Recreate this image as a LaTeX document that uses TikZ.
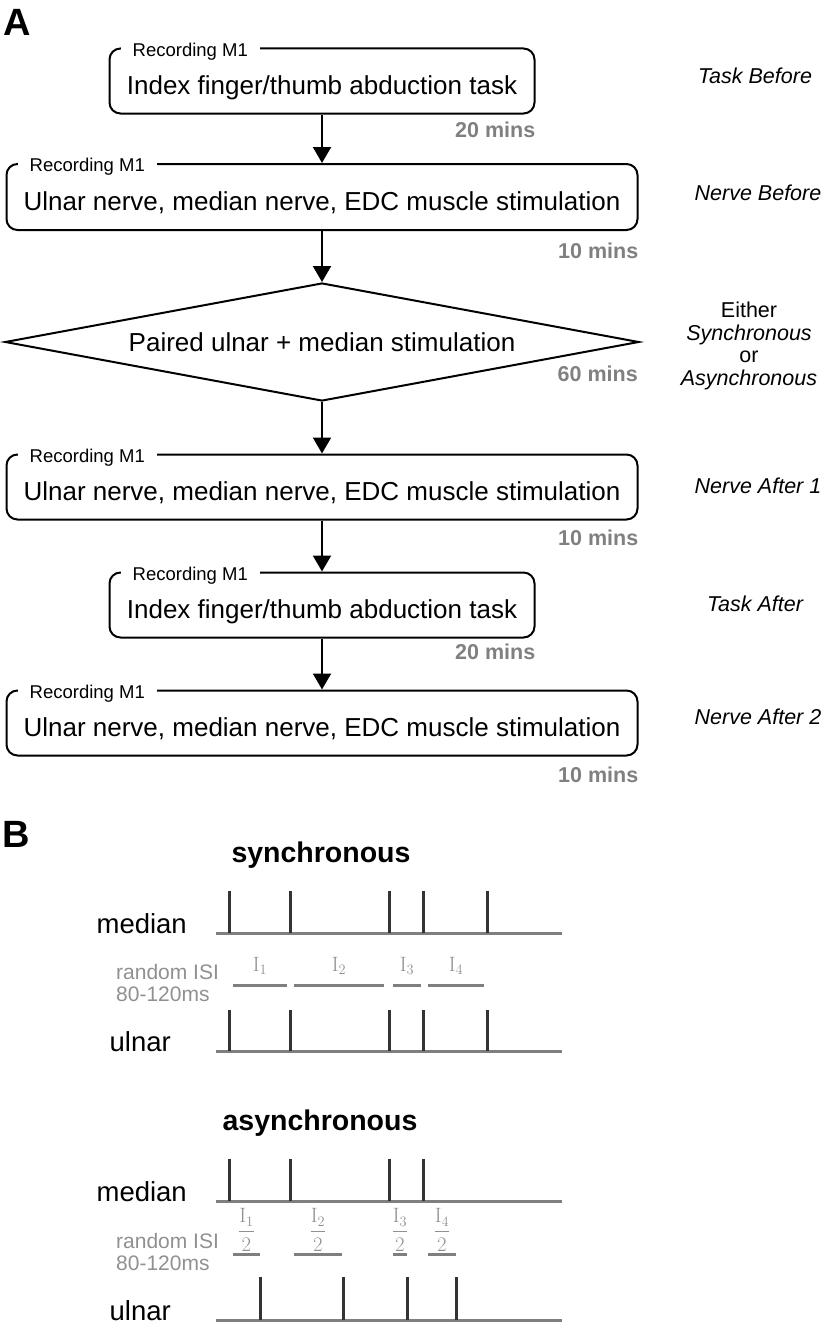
\documentclass[tikz,border=0pt]{standalone}
\usepackage[no-math]{fontspec}
\setmainfont{Liberation Sans}
\usepackage{amsmath}
\usetikzlibrary{arrows.meta}
\usetikzlibrary{shapes.geometric}
\definecolor{minsgray}{HTML}{808080}
\definecolor{tracegray}{HTML}{7F7F7F}
\definecolor{spikegray}{HTML}{333333}
\definecolor{isigray}{HTML}{909090}

\begin{document}
\begin{tikzpicture}[x=1pt, y=-1pt]
	\tikzstyle{stagebox}=[draw, line width=2pt, rounded corners=11pt, inner sep=0pt, text height=26pt, text depth=0pt, font=\fontsize{26}{30}\selectfont]
	\tikzstyle{choice}=[draw, diamond, line width=2pt, inner sep=0pt, aspect=5.4, font=\fontsize{26}{30}\selectfont]
	\tikzstyle{reclabel}=[fill=white, inner xsep=12pt, inner ysep=1pt, anchor=west, font=\fontsize{18.5}{20}\selectfont]
	\tikzstyle{minslabel}=[anchor=east, inner sep=0pt, text=minsgray, font=\fontsize{21.5}{22}\selectfont\bfseries]
	\tikzstyle{phaselabel}=[inner sep=0pt, font=\fontsize{21.5}{22}\selectfont\itshape]
	\tikzstyle{flowarrow}=[line width=2pt, -{Triangle[width=18pt,length=16pt]}]
	\tikzstyle{panel}=[anchor=north west, inner sep=0pt, font=\fontsize{38}{40}\selectfont\bfseries]
	\tikzstyle{modetitle}=[font=\fontsize{28.5}{30}\selectfont\bfseries]
	\tikzstyle{tracelabel}=[anchor=base east, inner sep=0pt, font=\fontsize{27.5}{32}\selectfont]
	\tikzstyle{isilabel}=[anchor=west, align=left, inner sep=0pt, text=isigray, font=\fontsize{21}{22}\selectfont]
	\tikzstyle{isinum}=[inner sep=0pt, text=isigray, font=\fontsize{20}{22}\selectfont]
	\tikzstyle{trace}=[line width=3pt, tracegray]
	\tikzstyle{spike}=[line width=3pt, spikegray]
	\tikzstyle{isibar}=[line width=3pt, tracegray]
	\useasboundingbox (0,0) rectangle (822,1330);
	%%% PANEL A %%%
	\node[panel] (pa) at (3,9) {A};
	%stage boxes
	\node[stagebox, minimum width=425pt, minimum height=65pt] (b1) at (322,81) {Index finger/thumb abduction task};
	\node[stagebox, minimum width=631pt, minimum height=66pt] (b2) at (322,197) {Ulnar nerve, median nerve, EDC muscle stimulation};
	\node[choice, minimum width=634pt, minimum height=118pt] (d) at (322,342) {Paired ulnar + median stimulation};
	\node[stagebox, minimum width=631pt, minimum height=65pt] (b3) at (322,487) {Ulnar nerve, median nerve, EDC muscle stimulation};
	\node[stagebox, minimum width=425pt, minimum height=65pt] (b4) at (322,605) {Index finger/thumb abduction task};
	\node[stagebox, minimum width=631pt, minimum height=65pt] (b5) at (322,723) {Ulnar nerve, median nerve, EDC muscle stimulation};
	%recording labels on the box tops
	\foreach \b in {b1,b2,b3,b4,b5}
		\node[reclabel] at ([xshift=12pt,yshift=-4pt]\b.north west) {Recording M1};
	%durations
	\node[minslabel] (m1) at ([yshift=-15pt]b1.south east) {20 mins};
	\node[minslabel] (m2) at ([yshift=-20pt]b2.south east) {10 mins};
	\node[minslabel] (m3) at ([xshift=-2pt,yshift=-32pt]d.east) {60 mins};
	\node[minslabel] (m4) at ([yshift=-17pt]b3.south east) {10 mins};
	\node[minslabel] (m5) at ([yshift=-13pt]b4.south east) {20 mins};
	\node[minslabel] (m6) at ([yshift=-18pt]b5.south east) {10 mins};
	%arrows between stages
	\draw[flowarrow] (b1) -- (b2);
	\draw[flowarrow] (b2) -- (d);
	\draw[flowarrow] (d) -- (b3);
	\draw[flowarrow] (b3) -- (b4);
	\draw[flowarrow] (b4) -- (b5);
	%phase names
	\node[phaselabel] (p1) at (755,76) {Task Before};
	\node[phaselabel] (p2) at (758,193) {Nerve Before};
	\node[inner sep=0pt, align=center, font=\fontsize{21.5}{22.5}\selectfont] (p3) at (749,346) {Either\\\textit{Synchronous}\\or\\\textit{Asynchronous}};
	\node[phaselabel] (p4) at (758,486) {Nerve After 1};
	\node[phaselabel] (p5) at (755,604) {Task After};
	\node[phaselabel] (p6) at (758,717) {Nerve After 2};
	%%% PANEL B %%%
	\node[panel] (pb) at (2,821) {B};
	%synchronous
	\node[modetitle] (st) at (321,855) {synchronous};
	\node[tracelabel] (sm) at (187,933) {median};
	\node[tracelabel] (su) at (171,1051) {ulnar};
	\draw[trace] (216,933) -- (562,933);
	\draw[trace] (216,1051) -- (562,1051);
	\foreach \t in {229,290,389,423,487}{
		\draw[spike] (\t,933) -- (\t,891);
		\draw[spike] (\t,1051) -- (\t,1010);
	}
	\node[isilabel] (si) at (116,983) {random ISI\\80-120ms};
	\foreach \a/\b/\k in {233/287/1, 294/384/2, 393/421/3, 428/484/4}{
		\draw[isibar] (\a,985) -- (\b,985);
		\node[isinum, anchor=base] at ({(\a+\b)/2},971) {$\mathrm{I}_{\k}$};
	}
	%asynchronous
	\node[modetitle] (at) at (320,1123) {asynchronous};
	\node[tracelabel] (am) at (187,1201) {median};
	\node[tracelabel] (au) at (171,1320) {ulnar};
	\draw[trace] (216,1201) -- (562,1201);
	\draw[trace] (216,1320) -- (562,1320);
	\foreach \t in {229,290,389,423}
		\draw[spike] (\t,1201) -- (\t,1159);
	\foreach \t in {260,343,407,456}
		\draw[spike] (\t,1320) -- (\t,1277);
	\node[isilabel] (ai) at (116,1252) {random ISI\\80-120ms};
	\foreach \a/\b/\k in {233/260/1, 294/342/2, 393/407/3, 428/456/4}{
		\draw[isibar] (\a,1254) -- (\b,1254);
		\node[isinum] at ({(\a+\b)/2},1230) {$\dfrac{\mathrm{I}_{\k}}{2}$};
	}
\end{tikzpicture}
\end{document}
